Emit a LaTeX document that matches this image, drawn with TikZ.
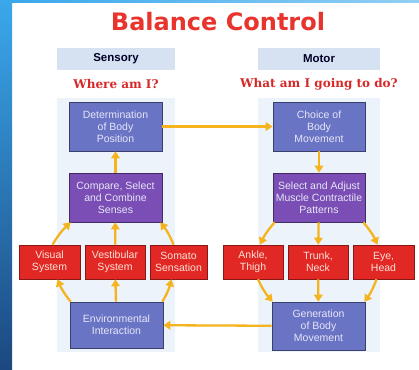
\documentclass[tikz,border=0pt]{standalone}
\usepackage{fontspec}
\setmainfont{Liberation Sans}
\newfontfamily\titlefont{DejaVu Sans}
\newfontfamily\askfont{DejaVu Serif}
\usetikzlibrary{arrows.meta}

\definecolor{titlered}{RGB}{232,52,44}
\definecolor{askred}{RGB}{214,40,40}
\definecolor{headfill}{RGB}{214,226,242}
\definecolor{panelfill}{RGB}{236,243,250}
\definecolor{boxblue}{RGB}{106,116,196}
\definecolor{boxpurple}{RGB}{122,78,180}
\definecolor{boxred}{RGB}{226,40,36}
\definecolor{paletext}{RGB}{230,230,248}
\definecolor{redtext}{RGB}{252,226,216}
\definecolor{flowcol}{RGB}{245,180,30}
\definecolor{bandtop}{RGB}{58,168,236}
\definecolor{bandbot}{RGB}{28,72,128}

\begin{document}
\begin{tikzpicture}[x=1pt,y=-1pt,
  head/.style={fill=headfill, minimum width=118, minimum height=22, inner sep=0pt,
    font=\bfseries\fontsize{11.5}{13}\selectfont, text=black!85!blue},
  ask/.style={text=askred, font=\askfont\bfseries\fontsize{12}{14}\selectfont},
  box/.style={draw=#1!55!black, fill=#1, line width=0.6pt, text=paletext, align=center,
    inner sep=0pt, minimum width=93, minimum height=49, font=\fontsize{10.5}{12}\selectfont},
  sense/.style={draw=boxred!60!black, fill=boxred, line width=0.6pt, text=redtext, align=center,
    inner sep=0pt, minimum width=60, minimum height=34, font=\fontsize{10.5}{12}\selectfont},
  flow/.style={draw=flowcol, line width=2.3pt, -{Triangle[length=7pt,width=8.5pt]}}]

\useasboundingbox (0,0) rectangle (419,369);

% background and side bands
\fill[white] (0,0) rectangle (419,369);
\shade[top color=bandtop, bottom color=bandbot] (0,0) rectangle (12,369);
\shade[left color=bandtop, right color=bandtop!55!white] (12,0) rectangle (419,3);

% column panels
\fill[panelfill] (57,98) rectangle (175,352);
\fill[panelfill] (258,98) rectangle (380,352);

\node (title) [text=titlered, font=\titlefont\bfseries\fontsize{24}{28}\selectfont] at (218,22) {Balance Control};

\node (sensHead) [head] at (116,59) {Sensory};
\node (motHead) [head, minimum width=122] at (319,59) {Motor};
\node (whereAsk) [ask] at (116,84) {Where am I?};
\node (whatAsk) [ask] at (319,84) {What am I going to do?};

% sensory side
\node (detBox) [box=boxblue] at (115.5,126.5) {Determination\\of Body\\Position};
\node (compBox) [box=boxpurple] at (115.5,197.5) {Compare, Select\\and Combine\\Senses};
\node (visual) [sense, minimum width=61] at (49.5,262) {Visual\\System};
\node (vestib) [sense] at (115,262) {Vestibular\\System};
\node (somato) [sense, minimum width=57] at (178.5,262) {Somato\\Sensation};
\node (envBox) [box=boxblue, minimum height=46] at (116.5,325) {Environmental\\Interaction};

% motor side
\node (choiceBox) [box=boxblue, minimum width=92] at (319,126.5) {Choice of\\Body\\Movement};
\node (selBox) [box=boxpurple, minimum width=92] at (319,197.5) {Select and Adjust\\Muscle Contractile\\Patterns};
\node (ankle) [sense] at (253,262) {Ankle,\\Thigh};
\node (trunk) [sense] at (318,262) {Trunk,\\Neck};
\node (eye) [sense, minimum width=61] at (383.5,262) {Eye,\\Head};
\node (genBox) [box=boxblue, minimum height=48] at (318.5,326) {Generation\\of Body\\Movement};

% connectors
\draw [flow] (detBox) -- (choiceBox);
\draw [flow] (compBox) -- (detBox);
\draw [flow] (vestib) -- (compBox);
\draw [flow] ([xshift=3pt]visual.north) to[bend left=8] ([xshift=2pt]compBox.south west);
\draw [flow] ([xshift=-5pt]somato.north) to[bend right=8] ([xshift=-2pt]compBox.south east);
\draw [flow] (envBox) -- (vestib);
\draw [flow] ([xshift=1pt]envBox.north west) to[bend left=8] ([xshift=8pt]visual.south);
\draw [flow] ([xshift=-1pt]envBox.north east) to[bend right=8] ([xshift=-7pt]somato.south);

\draw [flow] (choiceBox) -- (selBox);
\draw [flow] (selBox) -- (trunk);
\draw [flow] ([xshift=2pt]selBox.south west) to[bend right=8] ([xshift=7pt]ankle.north);
\draw [flow] ([xshift=-2pt]selBox.south east) to[bend left=8] ([xshift=-6pt]eye.north);
\draw [flow] (trunk) -- (genBox);
\draw [flow] ([xshift=5pt]ankle.south) to[bend right=8] ([xshift=1pt]genBox.north west);
\draw [flow] ([xshift=-7pt]eye.south) to[bend left=8] ([xshift=-1pt]genBox.north east);
\draw [flow] (genBox) -- (envBox);

\end{tikzpicture}
\end{document}
